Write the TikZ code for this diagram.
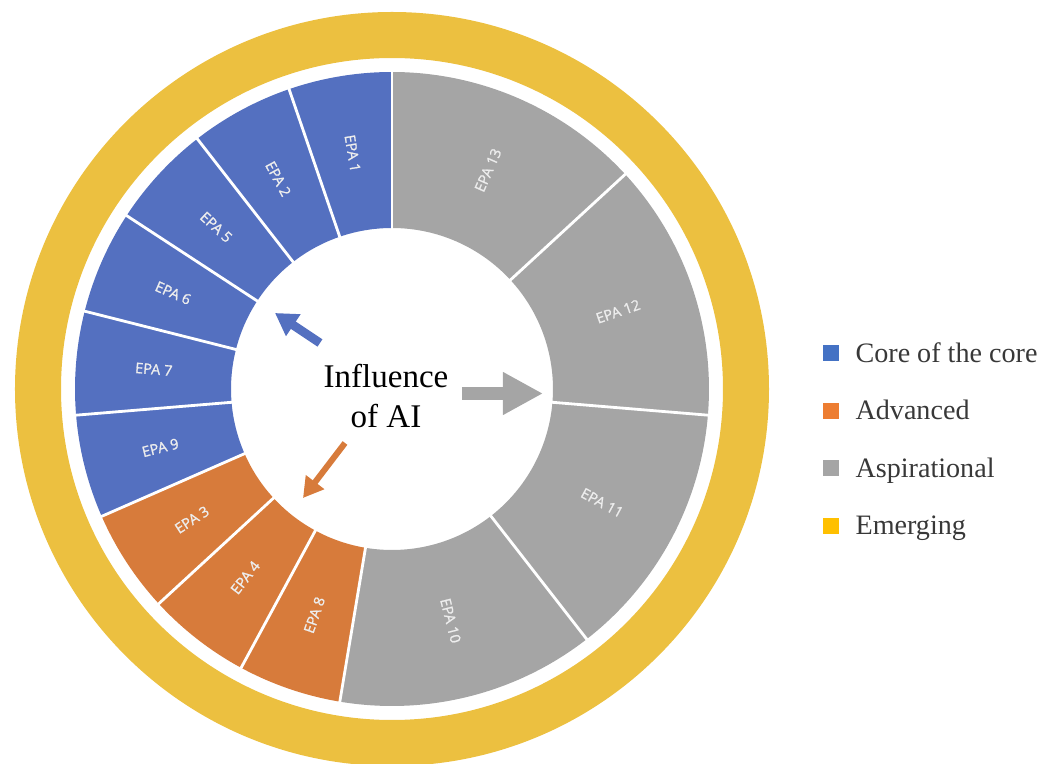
\documentclass[tikz,border=0pt]{standalone}
\usepackage{fontspec}
\setmainfont{Liberation Serif}
\newfontfamily\epafont[FakeBold=1.2]{Open Sans}
\usetikzlibrary{positioning, arrows.meta}

\definecolor{coreblue}{HTML}{5470C0}
\definecolor{advorange}{HTML}{D77B3B}
\definecolor{aspgrey}{HTML}{A5A5A5}
\definecolor{emergyellow}{HTML}{ECC040}
\definecolor{keyblue}{HTML}{4472C4}
\definecolor{keyorange}{HTML}{ED7D31}
\definecolor{keygrey}{HTML}{A5A5A5}
\definecolor{keyyellow}{HTML}{FFC000}

\begin{document}
\begin{tikzpicture}[
    x=0.025cm, y=0.025cm,
    >=Triangle,
    sep/.style={draw=white, line width=2pt},
    epa/.style={text=white!93!black, font=\epafont\fontsize{10.3}{12}\selectfont, inner sep=0pt},
    key/.style={rectangle, minimum size=0.4cm, inner sep=0pt},
    keytext/.style={inner sep=0pt, text height=13pt, text depth=0pt, font=\fontsize{20}{24}\selectfont, text=black!78}
]
    \useasboundingbox (-392,-375) rectangle (649,389);

    % Outer ring
    \draw[emergyellow, line width=1.15cm] (0,0) circle[radius=354];

    % Sectors
    \foreach \a/\b/\col/\n in {90/108.947/coreblue/1, 108.947/127.895/coreblue/2,
        127.895/146.842/coreblue/5, 146.842/165.789/coreblue/6, 165.789/184.737/coreblue/7,
        184.737/203.684/coreblue/9, 203.684/222.632/advorange/3, 222.632/241.579/advorange/4,
        241.579/260.526/advorange/8, 260.526/307.895/aspgrey/10, 307.895/355.263/aspgrey/11,
        355.263/402.632/aspgrey/12, 402.632/450/aspgrey/13}{
        \pgfmathsetmacro\midang{(\a+\b)/2}
        \pgfmathsetmacro\rot{ifthenelse(\midang<270,\midang-180,\midang)}
        \fill[\col] (\a:161) arc[start angle=\a, end angle=\b, radius=161]
            -- (\b:317) arc[start angle=\b, end angle=\a, radius=317] -- cycle;
        \node[epa, rotate=\rot] (epa\n) at (\midang:239) {EPA \n};
    }
    \foreach \a in {90, 108.947, 127.895, 146.842, 165.789, 184.737, 203.684,
        222.632, 241.579, 260.526, 307.895, 355.263, 402.632}
        \draw[sep] (\a:159) -- (\a:319);

    % Centre
    \node[align=center, inner sep=0pt, font=\fontsize{23.5}{28.5}\selectfont] (infl) at (-6,-7) {Influence\\of AI};

    % Arrows
    \coordinate (gtail) at (70,-4.5);
    \coordinate (gtip) at (151,-4.5);
    \coordinate (btail) at (-72,46);
    \coordinate (btip) at (-117,76);
    \coordinate (otail) at (-47,-54);
    \coordinate (otip) at (-89,-109);
    \draw[->, aspgrey, line width=0.33cm, >={Triangle[length=1cm, width=1cm]}] (gtail) -- (gtip);
    \draw[->, coreblue, line width=0.22cm, >={Triangle[length=0.55cm, width=0.62cm]}] (btail) -- (btip);
    \draw[->, advorange, line width=0.15cm, >={Triangle[length=0.5cm, width=0.55cm]}] (otail) -- (otip);

    % Legend
    \node[key, fill=keyblue] (keycore) at (439,36) {};
    \node[key, fill=keyorange, below=1.025cm of keycore] (keyadv) {};
    \node[key, fill=keygrey, below=1.025cm of keyadv] (keyasp) {};
    \node[key, fill=keyyellow, below=1.025cm of keyasp] (keyemg) {};
    \node[keytext, right=0.4cm of keycore] (txtcore) {Core of the core};
    \node[keytext, right=0.4cm of keyadv] (txtadv) {Advanced};
    \node[keytext, right=0.4cm of keyasp] (txtasp) {Aspirational};
    \node[keytext, right=0.4cm of keyemg] (txtemg) {Emerging};

\end{tikzpicture}
\end{document}
